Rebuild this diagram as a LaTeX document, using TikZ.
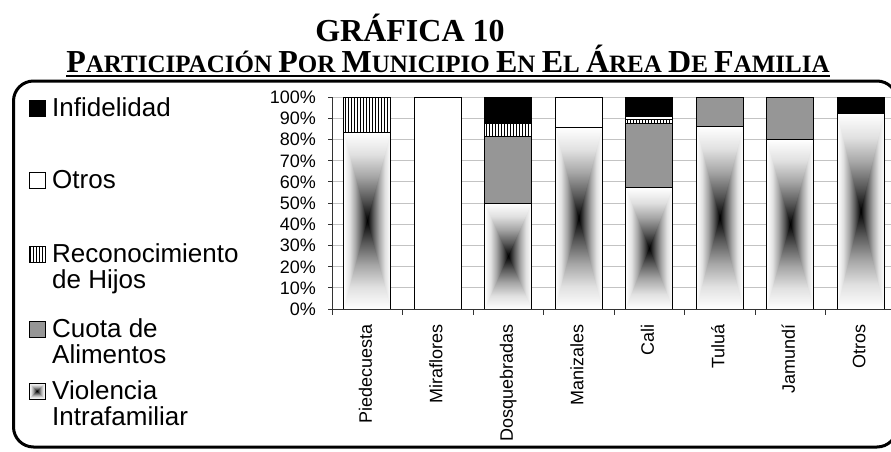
\documentclass[tikz,border=0pt]{standalone}
\usepackage{fontspec}
\setmainfont{Liberation Serif}
\newfontfamily\arialfont{Liberation Sans}
\usetikzlibrary{positioning,patterns.meta}
\definecolor{cuotagray}{RGB}{150,150,150}
\definecolor{gridgray}{RGB}{195,195,195}
% shadings for the gradient boxes (only 25bp--75bp is used)
\pgfdeclarehorizontalshading{violh}{100bp}{color(0bp)=(white); color(25bp)=(white);
    color(31.25bp)=(black!12); color(37.5bp)=(black!35); color(43.75bp)=(black!65); color(50bp)=(black);
    color(56.25bp)=(black!65); color(62.5bp)=(black!35); color(68.75bp)=(black!12); color(75bp)=(white); color(100bp)=(white)}
\pgfdeclareverticalshading{violbot}{100bp}{color(0bp)=(white); color(25bp)=(white);
    color(37.5bp)=(black!12); color(50bp)=(black!35); color(62.5bp)=(black!65); color(75bp)=(black); color(100bp)=(black)}
\pgfdeclareverticalshading{violtop}{100bp}{color(0bp)=(black); color(25bp)=(black);
    color(37.5bp)=(black!65); color(50bp)=(black!35); color(62.5bp)=(black!12); color(75bp)=(white); color(100bp)=(white)}
% gradient box, dark in the middle
\newcommand{\violseg}[4]{%
    \pgfmathsetmacro\vmx{(#1+#3)/2}%
    \pgfmathsetmacro\vmy{(#2+#4)/2}%
    \shade[shading=violh] (#1,#2) rectangle (#3,#4);
    \begin{scope}
        \clip (#1,#4) -- (#3,#4) -- (\vmx,\vmy) -- cycle;
        \shade[shading=violtop] (#1,\vmy) rectangle (#3,#4);
    \end{scope}
    \begin{scope}
        \clip (#1,#2) -- (#3,#2) -- (\vmx,\vmy) -- cycle;
        \shade[shading=violbot] (#1,#2) rectangle (#3,\vmy);
    \end{scope}
    \draw[black, line width=0.8pt] (#1,#2) rectangle (#3,#4);
}
\newcommand{\scword}[2]{{\fontsize{32}{32}\selectfont #1}{\fontsize{25}{25}\selectfont #2}}
\tikzset{
    infid/.style={draw=black, line width=0.8pt, fill=black},
    otros/.style={draw=black, line width=0.8pt, fill=white},
    recon/.style={draw=black, line width=0.8pt, preaction={fill=white}, pattern={Lines[angle=90,distance=3pt,line width=1pt]}},
    cuota/.style={draw=black, line width=0.8pt, fill=cuotagray},
    gridline/.style={gridgray, line width=1pt},
    axis/.style={black!80, line width=1pt},
    ylab/.style={anchor=east, inner sep=0pt, font=\arialfont\fontsize{18}{18}\selectfont, text height=13pt, text depth=0pt},
    xlab/.style={rotate=90, anchor=east, inner sep=0pt, font=\arialfont\fontsize{18}{18}\selectfont, text height=13pt, text depth=4pt},
    legtext/.style={anchor=base west, inner sep=0pt, font=\arialfont\fontsize{26}{26}\selectfont},
    legkey/.style={draw=black, line width=0.8pt},
}
\begin{document}
\begin{tikzpicture}[x=1pt, y=1pt]
        \useasboundingbox (0,0) rectangle (891,451);

        % Titles
        \node[anchor=base, inner sep=0pt, font=\bfseries\fontsize{32}{32}\selectfont] (title) at (410,409) {GRÁFICA 10};
        \node[anchor=base, inner sep=0pt, font=\bfseries\fontsize{25}{25}\selectfont] (subtitle) at (448,378)
            {\scword{P}{ARTICIPACIÓN} \scword{P}{OR} \scword{M}{UNICIPIO} \scword{E}{N} \scword{E}{L} \scword{Á}{REA} \scword{D}{E} \scword{F}{AMILIA}};
        \draw[line width=1.5pt] ([yshift=-3pt]subtitle.base west) -- ([yshift=-3pt]subtitle.base east);

        % Frame
        \draw[line width=3pt, rounded corners=20pt] (13.5,4) rectangle (897,370);

        % Legend
        \node[legtext] (linfid) at (52,335) {Infidelidad};
        \node[legtext] (lotros) at (52,263) {Otros};
        \node[legtext] (lrecon) at (52,189) {Reconocimiento};
        \node[legtext] (lrecon2) at ([yshift=-26pt]lrecon.base west) {de Hijos};
        \node[legtext] (lcuota) at (52,114) {Cuota de};
        \node[legtext] (lcuota2) at ([yshift=-26pt]lcuota.base west) {Alimentos};
        \node[legtext] (lviol) at (52,52) {Violencia};
        \node[legtext] (lviol2) at ([yshift=-26pt]lviol.base west) {Intrafamiliar};
        \draw[legkey, fill=black] (29,335) rectangle (45,351);
        \draw[legkey, fill=white] (29,263) rectangle (45,279);
        \draw[recon] (29,189) rectangle (45,205);
        \draw[cuota] (29,114) rectangle (45,130);
        \violseg{29}{52}{45}{68}

        % Chart
        \begin{scope}[shift={(332,142)}, x=70.5pt, y=2.12pt]
            % gridlines
            \foreach \p in {10,20,...,100}
                \draw[gridline] (0,\p) -- (8,\p);

            % bars, bottom part
            \foreach \c/\hi in {0/83.3, 2/50, 3/85.7, 4/57.4, 5/86.2, 6/80, 7/92.3} {
                \pgfmathsetmacro\xa{\c+1/6}
                \pgfmathsetmacro\xb{\c+5/6}
                \violseg{\xa}{0}{\xb}{\hi}
            }
            % bars, upper parts
            \foreach \c/\lo/\hi/\kind in {0/83.3/100/recon, 1/0/100/otros,
                2/50/81.25/cuota, 2/81.25/87.5/recon, 2/87.5/100/infid,
                3/85.7/100/otros,
                4/57.4/87.7/cuota, 4/87.7/89.3/recon, 4/89.3/91/otros, 4/91/100/infid,
                5/86.2/100/cuota, 6/80/100/cuota, 7/92.3/100/infid}
                \draw[\kind] ({\c+1/6},\lo) rectangle ({\c+5/6},\hi);

            % axes
            \draw[axis] (0,0) -- (0,100);
            \draw[axis] (0,0) -- (8,0);
            \foreach \p in {0,10,...,100} {
                \draw[axis] (0,\p) -- ++(-4pt,0);
                \node[ylab] (y\p) at ([xshift=-16pt]0,\p) {\p\%};
            }
            \foreach \c in {0,...,8}
                \draw[axis] (\c,0) -- ++(0,-6pt);

            % categories
            \foreach \cname [count=\i from 0] in {Piedecuesta, Miraflores, Dosquebradas, Manizales, Cali, Tuluá, Jamundí, Otros}
                \node[xlab] (cat\i) at ([yshift=-15pt]\i+0.5,0) {\cname};
        \end{scope}
    \end{tikzpicture}
\end{document}
